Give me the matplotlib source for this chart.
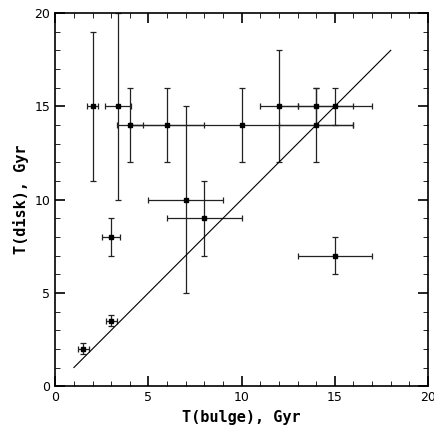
import matplotlib
matplotlib.use("Agg")
import matplotlib.pyplot as plt
from matplotlib.ticker import MultipleLocator

t_bulge = [1.5, 3.0, 3.0, 2.0, 3.36, 4.0, 6.0, 10.0, 7.0, 8.0, 12.0, 14.0, 15.0, 14.0, 15.0]
t_disk = [2.0, 3.5, 8.0, 15.0, 15.0, 14.0, 14.0, 14.0, 10.0, 9.0, 15.0, 15.0, 15.0, 14.0, 7.0]
xerr = [0.3, 0.3, 0.5, 0.3, 0.7, 0.7, 2.0, 6.0, 2.0, 2.0, 1.0, 2.0, 2.0, 2.0, 2.0]
yerr = [0.3, 0.3, 1.0, 4.0, 5.0, 2.0, 2.0, 2.0, 5.0, 2.0, 3.0, 1.0, 1.0, 2.0, 1.0]

fig, ax = plt.subplots(figsize=(4.35, 4.32), dpi=100)
fig.subplots_adjust(left=0.127, right=0.984, bottom=0.106, top=0.97)

ax.errorbar(t_bulge, t_disk, xerr=xerr, yerr=yerr, fmt="s", color="black",
            ms=3, elinewidth=0.9, capsize=2.5, capthick=0.9, ecolor="#222222")
ax.plot([1, 18], [1, 18], color="black", lw=0.8)

ax.set_xlim(0, 20)
ax.set_ylim(0, 20)
for a in (ax.xaxis, ax.yaxis):
    a.set_major_locator(MultipleLocator(5))
    a.set_minor_locator(MultipleLocator(1))
ax.tick_params(which="both", direction="in", top=True, right=True, labelsize=9)
ax.tick_params(which="major", length=7, width=1.2)
ax.tick_params(which="minor", length=3.5)
for s in ax.spines.values():
    s.set_linewidth(1.2)

ax.set_xlabel("T(bulge), Gyr", fontsize=11, fontweight="bold", family="DejaVu Sans Mono")
ax.set_ylabel("T(disk), Gyr", fontsize=11, fontweight="bold", family="DejaVu Sans Mono")

plt.savefig("out.png", dpi=100, facecolor="white")
